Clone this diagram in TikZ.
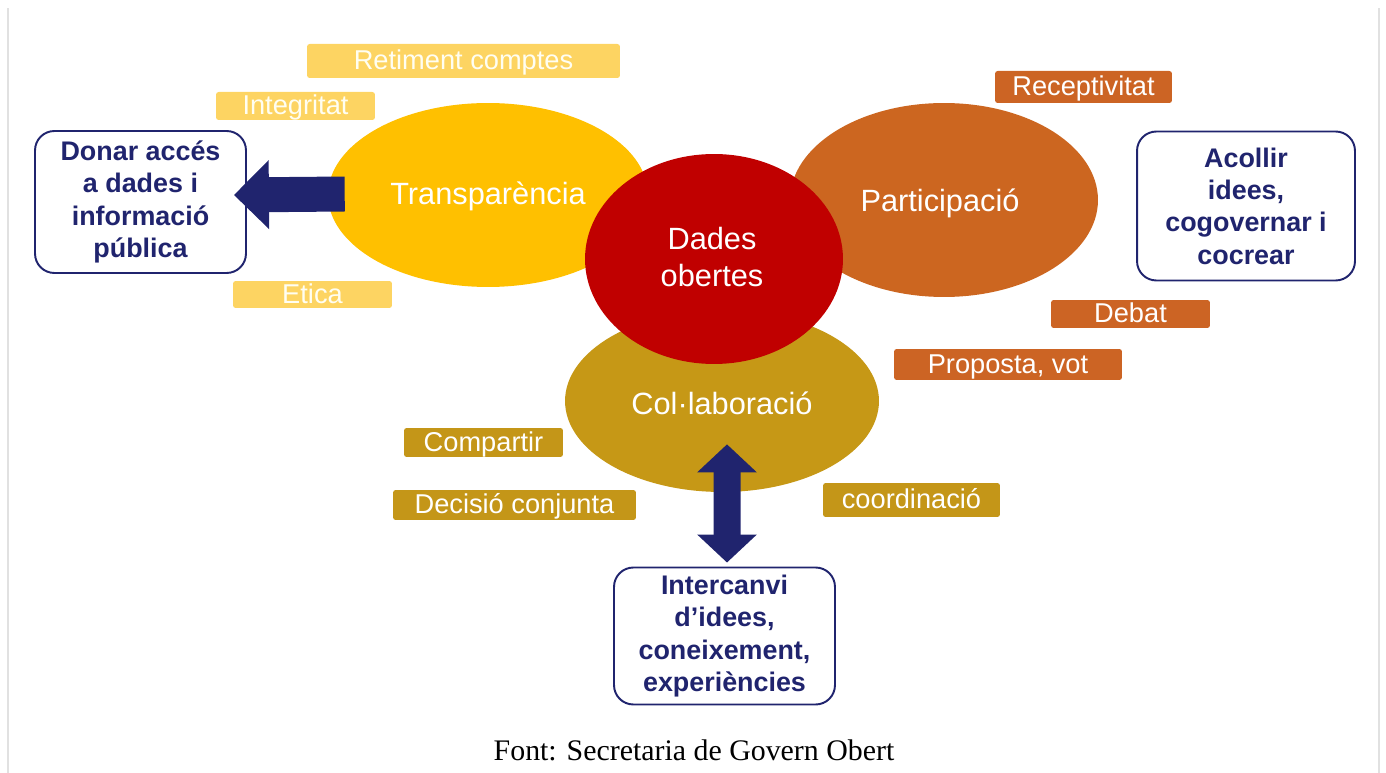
\documentclass[tikz,border=0pt]{standalone}
\usepackage{fontspec}
\setmainfont{Liberation Sans}
\newfontfamily\footfont{Liberation Serif}
\usetikzlibrary{shapes.geometric,arrows.meta,calc}

\definecolor{transpcol}{RGB}{255,192,0}
\definecolor{particol}{RGB}{204,102,32}
\definecolor{colabcol}{RGB}{198,152,22}
\definecolor{dadescol}{RGB}{192,0,0}
\definecolor{ylwtagcol}{RGB}{253,212,98}
\definecolor{orgtagcol}{RGB}{204,100,36}
\definecolor{ochtagcol}{RGB}{196,150,24}
\definecolor{navy}{RGB}{32,36,110}
\definecolor{sideline}{RGB}{225,225,225}

\tikzset{
  bubble/.style={ellipse, inner sep=0pt, text=white, align=center,
    font=\fontsize{17.5}{21}\selectfont},
  tag/.style={rectangle, rounded corners=1.5pt, inner sep=0pt, text=white,
    text height=11.5pt, text depth=1.5pt,
    font=\fontsize{15.5}{18}\selectfont},
  ylwtag/.style={tag, fill=ylwtagcol, text=white!95!yellow},
  orgtag/.style={tag, fill=orgtagcol},
  ochtag/.style={tag, fill=ochtagcol},
  infobox/.style={rectangle, draw=navy, line width=1.1pt, rounded corners=11pt,
    fill=white, text=navy, align=center, inner sep=0pt,
    font=\bfseries\fontsize{15.3}{18.4}\selectfont},
  blockarrow/.style={draw=navy, line width=#1}
}

\begin{document}
\begin{tikzpicture}[x=0.02cm,y=-0.02cm]
    \useasboundingbox (0,0) rectangle (1386,773);
    \draw[sideline, line width=1pt] (8,8) -- (8,773);
    \draw[sideline, line width=1pt] (1379,8) -- (1379,773);

    % the four bubbles
    \node[bubble, fill=colabcol, minimum width=6.28cm, minimum height=3.64cm] (colab) at (722,401) {};
    \node[bubble, fill=transpcol, minimum width=6.4cm, minimum height=3.68cm] (transp) at (488,195) {};
    \node[bubble, fill=particol, minimum width=6.16cm, minimum height=3.88cm] (partic) at (944,200) {};
    \node[bubble, fill=dadescol, minimum width=5.16cm, minimum height=4.2cm] (dades) at (714,259) {};

    \node[bubble] at (488,196) {Transparència};
    \node[bubble] at (940,203) {Participació};
    \node[bubble] at (722,403) {Col·laboració};
    \node[bubble] at (712,257) {Dades\\obertes};

    % tags
    \node[ylwtag, minimum width=6.26cm, minimum height=0.68cm] (retiment) at (463.5,61) {Retiment comptes};
    \node[ylwtag, minimum width=3.18cm, minimum height=0.56cm] (integritat) at (295.5,106) {Integritat};
    \node[ylwtag, minimum width=3.18cm, minimum height=0.54cm] (etica) at (312.5,294.5) {Etica};

    \node[orgtag, minimum width=3.54cm, minimum height=0.64cm] (recept) at (1083.5,87) {Receptivitat};
    \node[orgtag, minimum width=3.18cm, minimum height=0.56cm] (debat) at (1130.5,314) {Debat};
    \node[orgtag, minimum width=4.56cm, minimum height=0.62cm] (proposta) at (1008,364.5) {Proposta, vot};

    \node[ochtag, minimum width=3.18cm, minimum height=0.58cm] (compartir) at (483.5,442.5) {Compartir};
    \node[ochtag, minimum width=4.86cm, minimum height=0.60cm] (decisio) at (514.5,505) {Decisió conjunta};
    \node[ochtag, minimum width=3.54cm, minimum height=0.68cm] (coord) at (911.5,500) {coordinació};

    % boxes
    \node[infobox, minimum width=4.22cm, minimum height=2.84cm] (lbox) at (140.5,202) {Donar accés\\a dades i\\informació\\pública};
    \node[infobox, minimum width=4.36cm, minimum height=2.98cm] (rbox) at (1246,206) {Acollir\\idees,\\cogovernar i\\cocrear};
    \node[infobox, minimum width=4.42cm, minimum height=2.74cm] (bbox) at (724.5,636) {Intercanvi\\d'idees,\\coneixement,\\experiències};

    % arrows
    \draw[blockarrow=0.7cm, -{Triangle[length=0.7cm, width=1.34cm]}]
        ($(transp.west)+(17,-1)$) -- ($(lbox.east)+(-13,-7)$);
    \draw[blockarrow=0.54cm, {Triangle[length=0.56cm, width=1.16cm]}-{Triangle[length=0.56cm, width=1.16cm]}]
        ($(colab.south)+(5,-48)$) -- ($(bbox.north)+(2.5,-4)$);

    \node[font=\footfont\fontsize{17}{20}\selectfont] (source) at (694,750) {Font: Secretaria de Govern Obert};
\end{tikzpicture}
\end{document}
